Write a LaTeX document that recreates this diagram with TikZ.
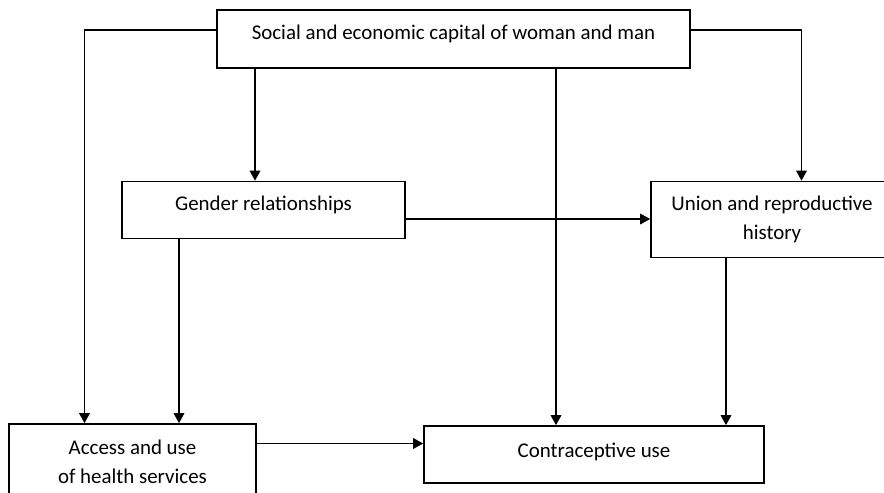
\documentclass[tikz,border=0pt]{standalone}
\usepackage{fontspec}
\setmainfont{Carlito}
\usetikzlibrary{arrows.meta}

\begin{document}
\begin{tikzpicture}[x=1bp,y=-1bp,->,>={Triangle[length=10bp,width=10.5bp]},
                    line width=1.6bp,font=\fontsize{21}{29}\selectfont]
  \tikzstyle{box}=[draw=black,text=black,inner sep=0pt,line width=1.6bp]
  \useasboundingbox (0,0) rectangle (884,493);
  \clip (0,0) rectangle (884,493);

  \node[box,minimum width=473bp,minimum height=58bp,text height=14bp,text depth=12bp] (S) at (453.5,39) {Social and economic capital of woman and man};
  \node[box,minimum width=283bp,minimum height=57bp,text height=14bp,text depth=12bp] (G) at (263.5,210) {Gender relationships};
  \node[box,align=center,minimum width=242bp,minimum height=76bp] (U) at (772,219.5) {Union and reproductive\\history};
  \node[box,align=center,minimum width=247bp,minimum height=75bp] (A) at (132.5,461.5) {Access and use\\of health services};
  \node[box,minimum width=340bp,minimum height=57bp,text height=14bp,text depth=9bp] (C) at (594,454.5) {Contraceptive use};

  \draw ([yshift=9bp]S.west) -| ([xshift=-48bp]A.north);
  \draw ([yshift=9bp]S.east) -| ([xshift=29.5bp]U.north);
  \draw ([xshift=-198.5bp]S.south) -- ([xshift=-198.5bp]S.south |- G.north);
  \draw ([xshift=102.5bp]S.south) -- ([xshift=102.5bp]S.south |- C.north);
  \draw ([yshift=-9bp]G.east) -- ([yshift=-9bp]G.east -| U.west);
  \draw ([xshift=-84.5bp]G.south) -- ([xshift=-84.5bp]G.south |- A.north);
  \draw ([xshift=-46bp]U.south) -- ([xshift=-46bp]U.south |- C.north);
  \draw ([yshift=18bp]A.east) -- ([yshift=18bp]A.east -| C.west);
\end{tikzpicture}
\end{document}
